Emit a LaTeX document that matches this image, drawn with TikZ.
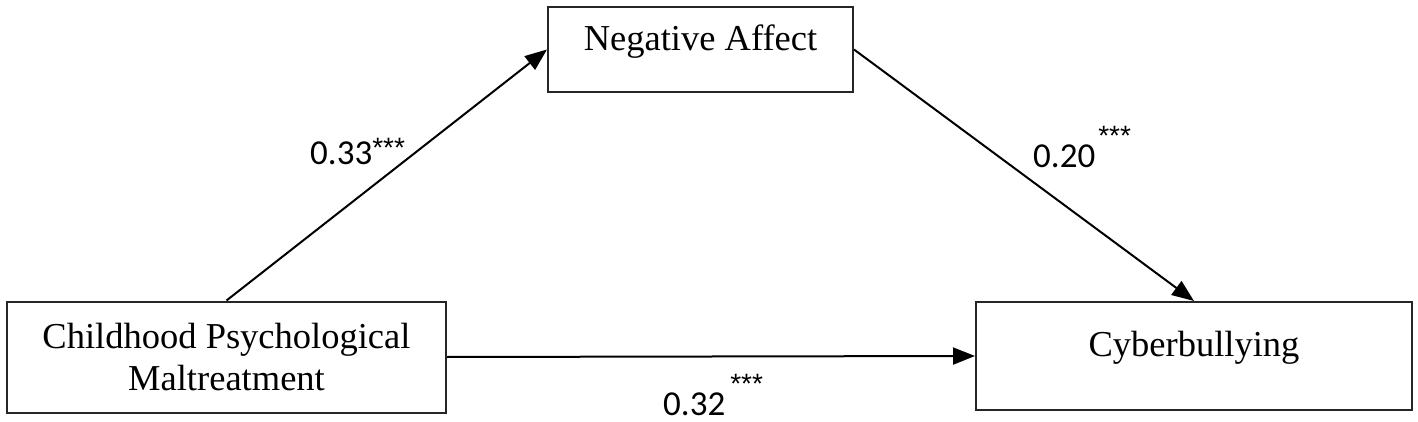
\documentclass[tikz,border=0pt]{standalone}
\usepackage{fontspec}
\setmainfont{Liberation Serif}
\newfontfamily\numfont{Carlito}
\newfontfamily\starfont{Liberation Sans}
\usetikzlibrary{arrows.meta}
\tikzset{
  box/.style={draw=black!85, line width=2pt, inner sep=0pt, align=center,
    font=\fontsize{36.5}{42}\selectfont},
  onebox/.style={box, text height=0.65em, text depth=0.35em},
  conn/.style={line width=2pt, -{Triangle[length=22pt,width=17pt]}},
  coef/.style={anchor=base west, inner sep=0pt, font=\numfont\fontsize{35}{35}\selectfont},
}
\newcommand{\stars}[1]{\raisebox{#1}{\starfont\fontsize{28}{28}\selectfont ***}}
\begin{document}
\begin{tikzpicture}[x=1pt,y=-1pt]
\useasboundingbox (0,0) rectangle (1418,422);
\node[box, minimum width=439pt, minimum height=111pt] (cpm) at (226.5,357) {Childhood Psychological\\Maltreatment};
\node[onebox, minimum width=305pt, minimum height=85pt] (na) at (700.5,49.5) {Negative Affect};
\node[onebox, minimum width=436pt, minimum height=108pt, text depth=0.5em] (cb) at (1194,356) {Cyberbullying};
\draw[conn] (cpm.north) -- (na.west);
\draw[conn] (na.east) -- (cb.north);
\draw[conn] (cpm.east) -- (cb.west);
\node[coef] (l1) at (310,165) {0.33\stars{7pt}};
\node[coef] (l2) at (1033,168) {0.20\hspace{3pt}\stars{22pt}};
\node[coef] (l3) at (663,415) {0.32\hspace{5pt}\stars{22pt}};
\end{tikzpicture}
\end{document}
